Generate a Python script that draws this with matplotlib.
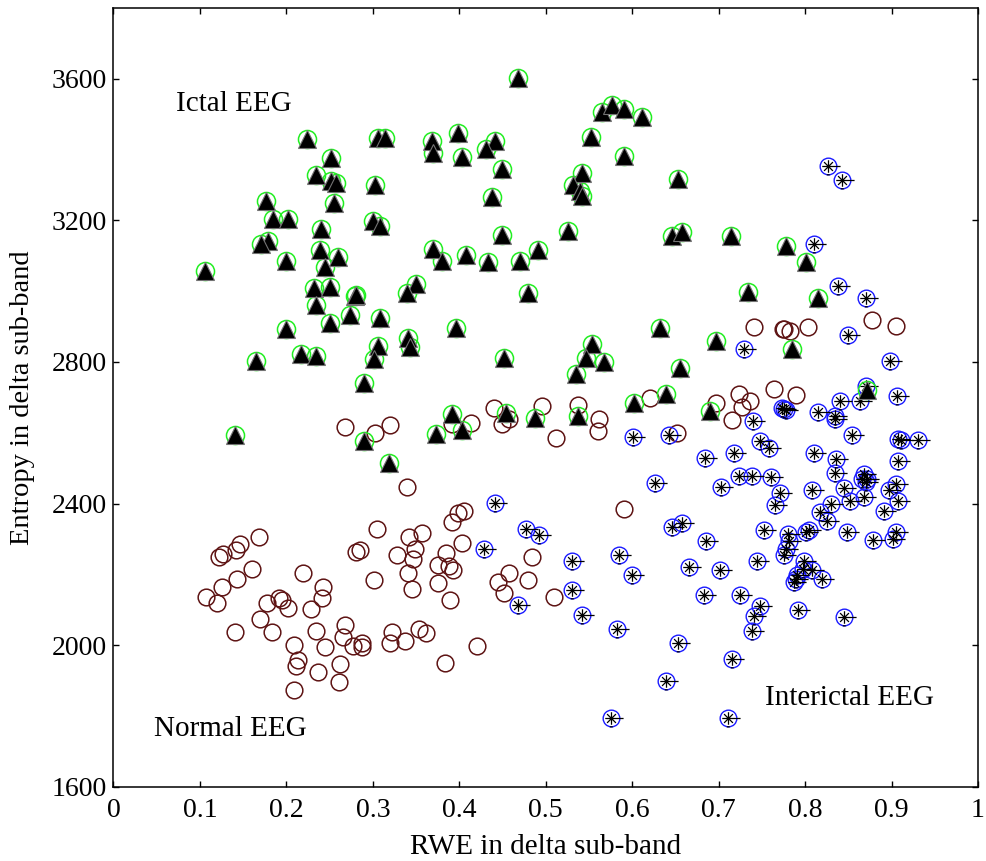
import numpy as np
import matplotlib
matplotlib.use('Agg')
import matplotlib.pyplot as plt
from matplotlib.path import Path

# Ictal EEG (triangles)
ictal_x = [0.224, 0.306, 0.314, 0.252, 0.234, 0.252, 0.257, 0.303, 0.255, 0.176,
           0.185, 0.202, 0.300, 0.308, 0.240, 0.179, 0.171, 0.239, 0.260, 0.199,
           0.245, 0.106, 0.232, 0.250, 0.279, 0.281, 0.234, 0.273, 0.308, 0.250,
           0.199, 0.306, 0.301, 0.165, 0.217, 0.234, 0.290,
           0.141, 0.290, 0.319,
           0.468, 0.565, 0.577, 0.590, 0.611, 0.552, 0.590, 0.368, 0.370, 0.398,
           0.403, 0.441, 0.431, 0.449, 0.542, 0.532, 0.540, 0.542, 0.653, 0.438,
           0.449, 0.526, 0.646, 0.658, 0.370, 0.380, 0.408, 0.433, 0.470, 0.491,
           0.350, 0.339, 0.479, 0.396, 0.632, 0.341, 0.343, 0.452, 0.553, 0.547,
           0.567, 0.535, 0.655, 0.639, 0.602,
           0.391, 0.373, 0.403, 0.454, 0.487, 0.537,
           0.714, 0.778, 0.801, 0.734, 0.815, 0.697, 0.785, 0.872, 0.690]
ictal_y = [3430, 3434, 3434, 3377, 3327, 3312, 3306, 3299, 3249, 3254,
           3204, 3204, 3199, 3183, 3176, 3143, 3133, 3115, 3097, 3086,
           3068, 3056, 3008, 3012, 2986, 2989, 2961, 2934, 2923, 2910,
           2894, 2845, 2808, 2803, 2822, 2817, 2742,
           2594, 2577, 2516,
           3603, 3507, 3526, 3515, 3491, 3435, 3383, 3424, 3390, 3448,
           3378, 3424, 3401, 3346, 3333, 3300, 3283, 3270, 3317, 3265,
           3160, 3169, 3155, 3166, 3120, 3086, 3103, 3082, 3086, 3115,
           3019, 2995, 2995, 2895, 2895, 2867, 2842, 2810, 2850, 2812,
           2800, 2767, 2782, 2709, 2685,
           2653, 2597, 2607, 2657, 2643, 2648,
           3155, 3127, 3082, 2997, 2981, 2859, 2837, 2720, 2662]

# Normal EEG (open circles)
normal_x = [0.268, 0.303, 0.320, 0.340, 0.305, 0.168, 0.146, 0.142, 0.127, 0.122,
            0.280, 0.285, 0.328, 0.160, 0.143, 0.126, 0.219, 0.301, 0.242, 0.241,
            0.107, 0.120, 0.178, 0.192, 0.195, 0.202, 0.229, 0.169, 0.141, 0.183,
            0.234, 0.268, 0.266, 0.245, 0.209, 0.277, 0.287, 0.288, 0.322, 0.320,
            0.337, 0.213, 0.211, 0.236, 0.262, 0.261, 0.209,
            0.391, 0.414, 0.449, 0.457, 0.512, 0.562, 0.560, 0.652, 0.405, 0.398,
            0.391, 0.357, 0.342, 0.403, 0.349, 0.347, 0.385, 0.375, 0.388, 0.393,
            0.341, 0.375, 0.345, 0.389, 0.484, 0.458, 0.445, 0.452, 0.479, 0.509,
            0.590, 0.353, 0.361, 0.421, 0.384,
            0.440, 0.496, 0.537, 0.621,
            0.741, 0.774, 0.776, 0.783, 0.803, 0.877, 0.905, 0.697, 0.724, 0.736,
            0.727, 0.764, 0.789, 0.716]
normal_y = [2615, 2599, 2621, 2447, 2329, 2305, 2285, 2268, 2258, 2249,
            2262, 2268, 2255, 2216, 2188, 2164, 2205, 2183, 2164, 2133,
            2136, 2120, 2119, 2133, 2127, 2106, 2103, 2075, 2036, 2036,
            2040, 2058, 2023, 1995, 2000, 1997, 2006, 1995, 2036, 2006,
            2011, 1958, 1941, 1923, 1946, 1897, 1873,
            2624, 2627, 2624, 2638, 2586, 2640, 2604, 2599, 2378, 2373,
            2349, 2317, 2307, 2288, 2272, 2244, 2260, 2227, 2223, 2211,
            2204, 2176, 2159, 2127, 2248, 2204, 2178, 2147, 2183, 2136,
            2385, 2046, 2035, 1997, 1951,
            2671, 2677, 2678, 2699,
            2899, 2893, 2892, 2887, 2899, 2920, 2903, 2683, 2709, 2690,
            2673, 2723, 2707, 2635]

# Interictal EEG (circle + asterisk)
inter_x = [0.601, 0.642, 0.626, 0.441, 0.477, 0.492, 0.646, 0.658, 0.429, 0.530,
           0.585, 0.600, 0.666, 0.530, 0.468, 0.542, 0.582, 0.653, 0.639, 0.575,
           0.740, 0.834, 0.854, 0.907, 0.911, 0.931, 0.748, 0.758, 0.684, 0.718,
           0.810, 0.836, 0.908, 0.723, 0.739, 0.760, 0.834, 0.868, 0.866, 0.872,
           0.870, 0.703, 0.771, 0.765, 0.808, 0.845, 0.852, 0.868, 0.905, 0.897,
           0.908, 0.891, 0.830, 0.817, 0.825, 0.753, 0.780, 0.781, 0.778, 0.776,
           0.801, 0.805, 0.848, 0.878, 0.902, 0.905, 0.685, 0.702, 0.744, 0.799,
           0.797, 0.808, 0.820, 0.790, 0.791, 0.787, 0.683, 0.725, 0.748, 0.741,
           0.739, 0.792, 0.845, 0.716, 0.711,
           0.827, 0.843, 0.810, 0.838, 0.871, 0.850, 0.898, 0.871, 0.906, 0.729,
           0.773, 0.776, 0.778, 0.840, 0.864, 0.815, 0.834]
inter_y = [2587, 2593, 2457, 2401, 2328, 2311, 2335, 2345, 2272, 2239,
           2255, 2199, 2220, 2155, 2114, 2086, 2046, 2006, 1899, 1793,
           2634, 2638, 2594, 2582, 2580, 2580, 2577, 2556, 2530, 2542,
           2544, 2525, 2521, 2479, 2479, 2476, 2486, 2483, 2469, 2469,
           2460, 2448, 2430, 2396, 2437, 2443, 2408, 2420, 2454, 2437,
           2408, 2380, 2399, 2375, 2352, 2324, 2314, 2293, 2272, 2255,
           2319, 2324, 2319, 2296, 2299, 2319, 2294, 2211, 2239, 2239,
           2215, 2211, 2187, 2187, 2197, 2178, 2142, 2142, 2110, 2082,
           2039, 2099, 2081, 1961, 1793,
           3354, 3314, 3134, 3016, 2981, 2875, 2803, 2732, 2704, 2836,
           2669, 2666, 2663, 2690, 2690, 2660, 2648]

xticks = [0, 0.1, 0.2, 0.3, 0.4, 0.5, 0.6, 0.7, 0.8, 0.9, 1]
xticklabels = ['0', '0.1', '0.2', '0.3', '0.4', '0.5', '0.6', '0.7', '0.8', '0.9', '1']
yticks = [1600, 2000, 2400, 2800, 3200, 3600]

plt.rcParams['font.family'] = ['Liberation Serif', 'DejaVu Serif']

# asterisk marker with the little stray dashes seen in the original
verts = [(-0.75, 0), (1.45, 0), (0, -0.75), (0, 0.75),
         (-0.53, -0.53), (0.53, 0.53), (-0.53, 0.53), (0.53, -0.53),
         (-0.2, -1.0), (0.15, -1.0)]
codes = [Path.MOVETO, Path.LINETO] * 5
star = Path(verts, codes)

fig = plt.figure(figsize=(9.86, 8.61), dpi=100)
ax = fig.add_axes([0.1151, 0.0862, 0.8768, 0.9045])

ax.plot(normal_x, normal_y, 'o', ls='none', ms=12, mfc='none',
        mec='#5e1414', mew=1.1)
ax.plot(inter_x, inter_y, 'o', ls='none', ms=12, mfc='none',
        mec='#1a1aff', mew=1.0)
ax.plot(inter_x, inter_y, ls='none', marker=star, ms=17.4, mec='black',
        mew=0.9)
ax.plot(ictal_x, ictal_y, 'o', ls='none', ms=13, mfc='none',
        mec='#22ee22', mew=1.1)
ax.plot(ictal_x, ictal_y, '^', ls='none', ms=13.5, mfc='black',
        mec='0.45', mew=0.8)

ax.text(0.139, 3530, 'Ictal EEG', fontsize=21, ha='center', va='center')
ax.text(0.135, 1763, 'Normal EEG', fontsize=21, ha='center', va='center')
ax.text(0.851, 1852, 'Interictal EEG', fontsize=21, ha='center', va='center')

ax.set_xlim(0, 1)
ax.set_ylim(1600, 3800)
ax.set_xticks(xticks)
ax.set_xticklabels(xticklabels)
ax.set_yticks(yticks)
ax.tick_params(direction='in', length=4, width=1, top=True, right=True,
               labelsize=20)
ax.tick_params(axis='x', pad=8)
ax.tick_params(axis='y', pad=5)
for s in ax.spines.values():
    s.set_linewidth(1.1)

ax.set_xlabel('RWE in delta sub-band', fontsize=21, labelpad=8)
ax.set_ylabel('Entropy in delta sub-band', fontsize=20.5, labelpad=12)

fig.savefig('out.png', dpi=100)
